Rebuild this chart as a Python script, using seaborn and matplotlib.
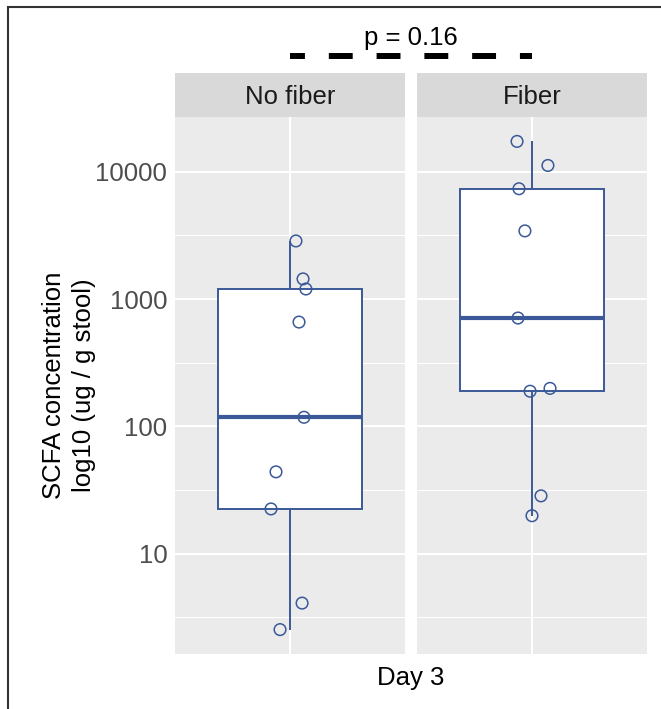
import numpy as np
import pandas as pd
import matplotlib
matplotlib.use("Agg")
import matplotlib.pyplot as plt
import seaborn as sns
from matplotlib.lines import Line2D
from matplotlib.patches import Rectangle
from matplotlib.ticker import NullFormatter

# data
groups = ["No fiber", "Fiber"]
no_fiber = [2860, 1440, 1200, 660, 118, 44, 22.5, 4.1, 2.54]
no_fiber_jitter = [0.031, 0.068, 0.083, 0.047, 0.073, -0.073, -0.099, 0.063, -0.052]
fiber = [17300, 11200, 7350, 3430, 710, 189, 199, 28.5, 19.9]
fiber_jitter = [-0.078, 0.083, -0.068, -0.037, -0.073, -0.010, 0.094, 0.047, 0.0]
day = "Day 3"
p_text = "p = 0.16"
y_ticks = [10, 100, 1000, 10000]

blue = "#3B5998"
W, H = 661, 709

rows = []
for g, vals, jit in [(groups[0], no_fiber, no_fiber_jitter), (groups[1], fiber, fiber_jitter)]:
    for v, j in zip(vals, jit):
        rows.append({"group": g, "day": day, "value": v, "jitter": j})
df = pd.DataFrame(rows)

sns.set_style("white")
plt.rcParams["font.family"] = ["Liberation Sans", "DejaVu Sans"]
fs = 18.5

fig = plt.figure(figsize=(W / 100, H / 100), dpi=100)

def fx(px):
    return px / W

def fy(px):
    return 1 - px / H

panel_top, panel_bot = 117, 654
strip_top = 73
panels_x = [(175, 405), (417, 647)]

# y range like ggplot: 5% expansion on log scale
lo = np.log10(df["value"].min())
hi = np.log10(df["value"].max())
pad = 0.05 * (hi - lo)
ylim = (10 ** (lo - pad), 10 ** (hi + pad))
minor = [10 ** (k + 0.5) for k in range(0, 5) if 10 ** (k + 0.5) < ylim[1]]

axes = []
for i, g in enumerate(groups):
    x0, x1 = panels_x[i]
    ax = fig.add_axes([fx(x0), fy(panel_bot), fx(x1 - x0), (panel_bot - panel_top) / H])
    sub = df[df["group"] == g]
    sns.boxplot(data=sub, x="day", y="value", ax=ax, width=0.75, color="white",
                linecolor=blue, linewidth=1.4, whis=(0, 100), showcaps=False,
                showfliers=False, medianprops={"linewidth": 3.0}, log_scale=True)
    sns.scatterplot(x=sub["jitter"].values, y=sub["value"].values, ax=ax, marker="o",
                    facecolor="none", edgecolor=blue, linewidth=1.1, s=70, zorder=5)
    ax.set_facecolor("#EBEBEB")
    ax.set_yticks(y_ticks)
    ax.set_yticklabels([str(t) for t in y_ticks])
    ax.set_yticks(minor, minor=True)
    ax.yaxis.set_minor_formatter(NullFormatter())
    ax.set_xticks([0])
    ax.set_xticklabels([""])
    ax.set_xlim(-0.6, 0.6)
    ax.set_ylim(*ylim)
    ax.set_xlabel("")
    ax.set_ylabel("")
    ax.set_axisbelow(True)
    ax.grid(which="major", color="white", linewidth=1.5)
    ax.grid(which="minor", axis="y", color="white", linewidth=0.75)
    for s in ax.spines.values():
        s.set_visible(False)
    ax.tick_params(axis="x", length=0)
    ax.tick_params(axis="y", which="minor", length=0)
    if i == 0:
        ax.tick_params(axis="y", which="major", length=3.5, width=1.1, color="#333333",
                       labelcolor="#4D4D4D", labelsize=fs, pad=2)
    else:
        ax.tick_params(axis="y", which="major", length=0, labelleft=False)
    axes.append(ax)

    # facet strip
    sax = fig.add_axes([fx(x0), fy(panel_top), fx(x1 - x0), (panel_top - strip_top) / H])
    sax.set_facecolor("#D9D9D9")
    sax.set_xticks([])
    sax.set_yticks([])
    for s in sax.spines.values():
        s.set_visible(False)
    sax.text(0.5, 0.45, g, ha="center", va="center", fontsize=fs, color="#1A1A1A",
             transform=sax.transAxes)

# y label and x label
fig.text(fx(69), fy((panel_top + panel_bot) / 2), "SCFA concentration\nlog10 (ug / g stool)",
         rotation=90, ha="center", va="center", fontsize=fs, color="black", linespacing=1.3)
fig.text(fx((175 + 647) / 2), fy(678), day, ha="center", va="center", fontsize=fs, color="black")

# significance bar between panel centres
fig.canvas.draw()
inv = fig.transFigure.inverted()
xa = inv.transform(axes[0].transData.transform((0, 1)))[0]
xb = inv.transform(axes[1].transData.transform((0, 1)))[0]
fig.add_artist(Line2D([xa, xb], [fy(56), fy(56)], transform=fig.transFigure, color="black",
                      linewidth=4.3, linestyle=(1.5, (4, 4)), solid_capstyle="butt",
                      dash_capstyle="butt"))
fig.text((xa + xb) / 2, fy(38), p_text, ha="center", va="center", fontsize=fs, color="black")

# outer frame (cropped on right and bottom)
fig.add_artist(Rectangle((fx(8), -0.1), 1.2, fy(7) + 0.1, transform=fig.transFigure,
                         fill=False, edgecolor="#333333", linewidth=1.5))

fig.savefig("out.png", dpi=100)
